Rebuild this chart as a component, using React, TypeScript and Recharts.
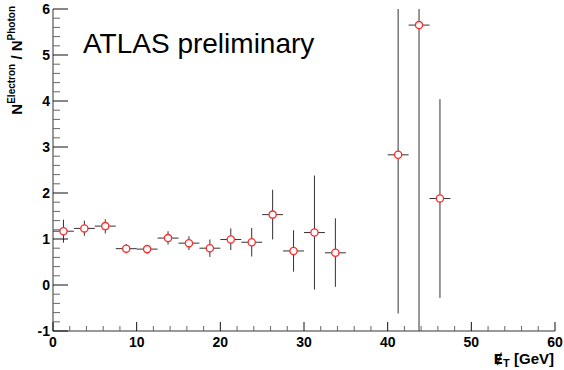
import React from 'react';
import { ComposedChart, Scatter, XAxis, YAxis, ErrorBar } from 'recharts';

// bin centres of missing-ET (GeV)
const binCenters = [1.25, 3.75, 6.25, 8.75, 11.25, 13.75, 16.25, 18.75, 21.25, 23.75, 26.25, 28.75, 31.25, 33.75, 41.25, 43.75, 46.25];
// ratio N(Electron)/N(Photon)
const ratio = [1.17, 1.23, 1.28, 0.79, 0.78, 1.02, 0.91, 0.8, 0.99, 0.93, 1.53, 0.74, 1.14, 0.7, 2.83, 5.65, 1.88];
const errLow = [0.25, 0.16, 0.16, 0.1, 0.1, 0.14, 0.15, 0.19, 0.23, 0.31, 0.54, 0.45, 1.24, 0.74, 3.45, 7.5, 2.16];
const errHigh = [0.25, 0.17, 0.15, 0.1, 0.09, 0.15, 0.15, 0.19, 0.24, 0.31, 0.54, 0.45, 1.24, 0.75, 3.45, 7.5, 2.16];
const binHalfWidth = 1.25;

const xTicks = Array.from({ length: 31 }, (_, i) => i * 2);
const yTicks = Array.from({ length: 36 }, (_, i) => Math.round((-1 + i * 0.2) * 10) / 10);
const xLabels = [0, 10, 20, 30, 40, 50, 60];
const yLabels = [-1, 0, 1, 2, 3, 4, 5, 6];

const data = binCenters.map((x, i) => ({
  x,
  y: ratio[i],
  yErr: [errLow[i], errHigh[i]],
  xErr: binHalfWidth,
}));

const W = 564;
const H = 370;
const MARGIN = { top: 9, right: 9, bottom: 0, left: 0 };
const Y_AXIS_W = 53;
const X_AXIS_H = 39;
const PLOT = {
  x: MARGIN.left + Y_AXIS_W,
  y: MARGIN.top,
  w: W - MARGIN.left - Y_AXIS_W - MARGIN.right,
  h: H - MARGIN.top - X_AXIS_H - MARGIN.bottom,
};

const FONT = '"Liberation Sans", Arial, Helvetica, sans-serif';
const MAJOR = '#111';
const MINOR = '#666';

const isXMajor = (v: number) => xLabels.includes(v);
const isYMajor = (v: number) => yLabels.includes(v);

const BottomTick = (props: any) => {
  const { x, y, payload } = props;
  const v = payload.value;
  const major = isXMajor(v);
  return (
    <g>
      <line x1={x} y1={y} x2={x} y2={y - (major ? 9 : 5)} stroke={major ? MAJOR : MINOR} strokeWidth={1} />
      {major && (
        <text x={x} y={y + 16} textAnchor="middle" fontFamily={FONT} fontWeight="bold" fontSize={14} fill="#000">
          {v}
        </text>
      )}
    </g>
  );
};

const TopTick = (props: any) => {
  const { x, y, payload } = props;
  const major = isXMajor(payload.value);
  return <line x1={x} y1={y} x2={x} y2={y + (major ? 9 : 5)} stroke={major ? MAJOR : MINOR} strokeWidth={1} />;
};

const LeftTick = (props: any) => {
  const { x, y, payload } = props;
  const v = payload.value;
  const major = isYMajor(v);
  return (
    <g>
      <line x1={x} y1={y} x2={x + (major ? 15 : 7)} y2={y} stroke={major ? MAJOR : MINOR} strokeWidth={1} />
      {major && (
        <text x={x - 3} y={y + 5} textAnchor="end" fontFamily={FONT} fontWeight="bold" fontSize={14} fill="#000">
          {v}
        </text>
      )}
    </g>
  );
};

const RightTick = (props: any) => {
  const { x, y, payload } = props;
  const major = isYMajor(payload.value);
  return <line x1={x} y1={y} x2={x - (major ? 14 : 7)} y2={y} stroke={major ? MAJOR : MINOR} strokeWidth={1} />;
};

const Marker = (props: any) => {
  const { cx, cy } = props;
  return <circle cx={cx} cy={cy} r={3.6} fill="#fff" stroke="#ff2a2a" strokeWidth={1.3} />;
};

export default function App() {
  return (
    <div style={{ position: 'absolute', left: 0, top: 0, width: W, height: H, background: '#fff' }}>
      <style>{`.recharts-errorBar { clip-path: url(#plotAreaClip); }`}</style>
      <svg width={0} height={0} style={{ position: 'absolute' }}>
        <defs>
          <clipPath id="plotAreaClip" clipPathUnits="userSpaceOnUse">
            <rect x={PLOT.x} y={PLOT.y} width={PLOT.w} height={PLOT.h} />
          </clipPath>
        </defs>
      </svg>
      <ComposedChart width={W} height={H} data={data} margin={MARGIN}>
        <XAxis
          xAxisId={0}
          dataKey="x"
          type="number"
          domain={[0, 60]}
          allowDataOverflow
          ticks={xTicks}
          interval={0}
          height={X_AXIS_H}
          tickSize={0}
          tickMargin={0}
          tickLine={false}
          axisLine={{ stroke: '#333' }}
          tick={BottomTick}
        />
        <XAxis
          xAxisId="top"
          orientation="top"
          type="number"
          domain={[0, 60]}
          allowDataOverflow
          ticks={xTicks}
          interval={0}
          height={0}
          tickSize={0}
          tickMargin={0}
          tickLine={false}
          axisLine={{ stroke: '#333' }}
          tick={TopTick}
        />
        <YAxis
          yAxisId={0}
          dataKey="y"
          type="number"
          domain={[-1, 6]}
          allowDataOverflow
          ticks={yTicks}
          interval={0}
          width={Y_AXIS_W}
          tickSize={0}
          tickMargin={0}
          tickLine={false}
          axisLine={{ stroke: '#333' }}
          tick={LeftTick}
        />
        <YAxis
          yAxisId="right"
          orientation="right"
          type="number"
          domain={[-1, 6]}
          allowDataOverflow
          ticks={yTicks}
          interval={0}
          width={0}
          tickSize={0}
          tickMargin={0}
          tickLine={false}
          axisLine={{ stroke: '#333' }}
          tick={RightTick}
        />
        <Scatter xAxisId={0} yAxisId={0} dataKey="y" isAnimationActive={false} shape={Marker}>
          <ErrorBar dataKey="yErr" direction="y" width={0} stroke="#333" strokeWidth={1} isAnimationActive={false} />
          <ErrorBar dataKey="xErr" direction="x" width={0} stroke="#333" strokeWidth={1} isAnimationActive={false} />
        </Scatter>
      </ComposedChart>
      <svg width={W} height={H} style={{ position: 'absolute', left: 0, top: 0, pointerEvents: 'none' }}>
        <text x={83} y={53} fontFamily={FONT} fontSize={28} fill="#000">
          ATLAS preliminary
        </text>
        <text
          transform="rotate(-90)"
          x={-6}
          y={22}
          textAnchor="end"
          fontFamily={FONT}
          fontWeight="bold"
          fontSize={15}
          fill="#000"
        >
          <tspan>N</tspan>
          <tspan fontSize={10} dy={-7}>Electron</tspan>
          <tspan dy={7}> / N</tspan>
          <tspan fontSize={10} dy={-7}>Photon</tspan>
        </text>
        <text x={554} y={364} textAnchor="end" fontFamily={FONT} fontWeight="bold" fontSize={15} fill="#000">
          <tspan fontFamily='"DejaVu Sans", sans-serif' fontSize={14}>{'\u0246'}</tspan>
          <tspan fontSize={11} dy={3}>T</tspan>
          <tspan dy={-3}> [GeV]</tspan>
        </text>
      </svg>
    </div>
  );
}
